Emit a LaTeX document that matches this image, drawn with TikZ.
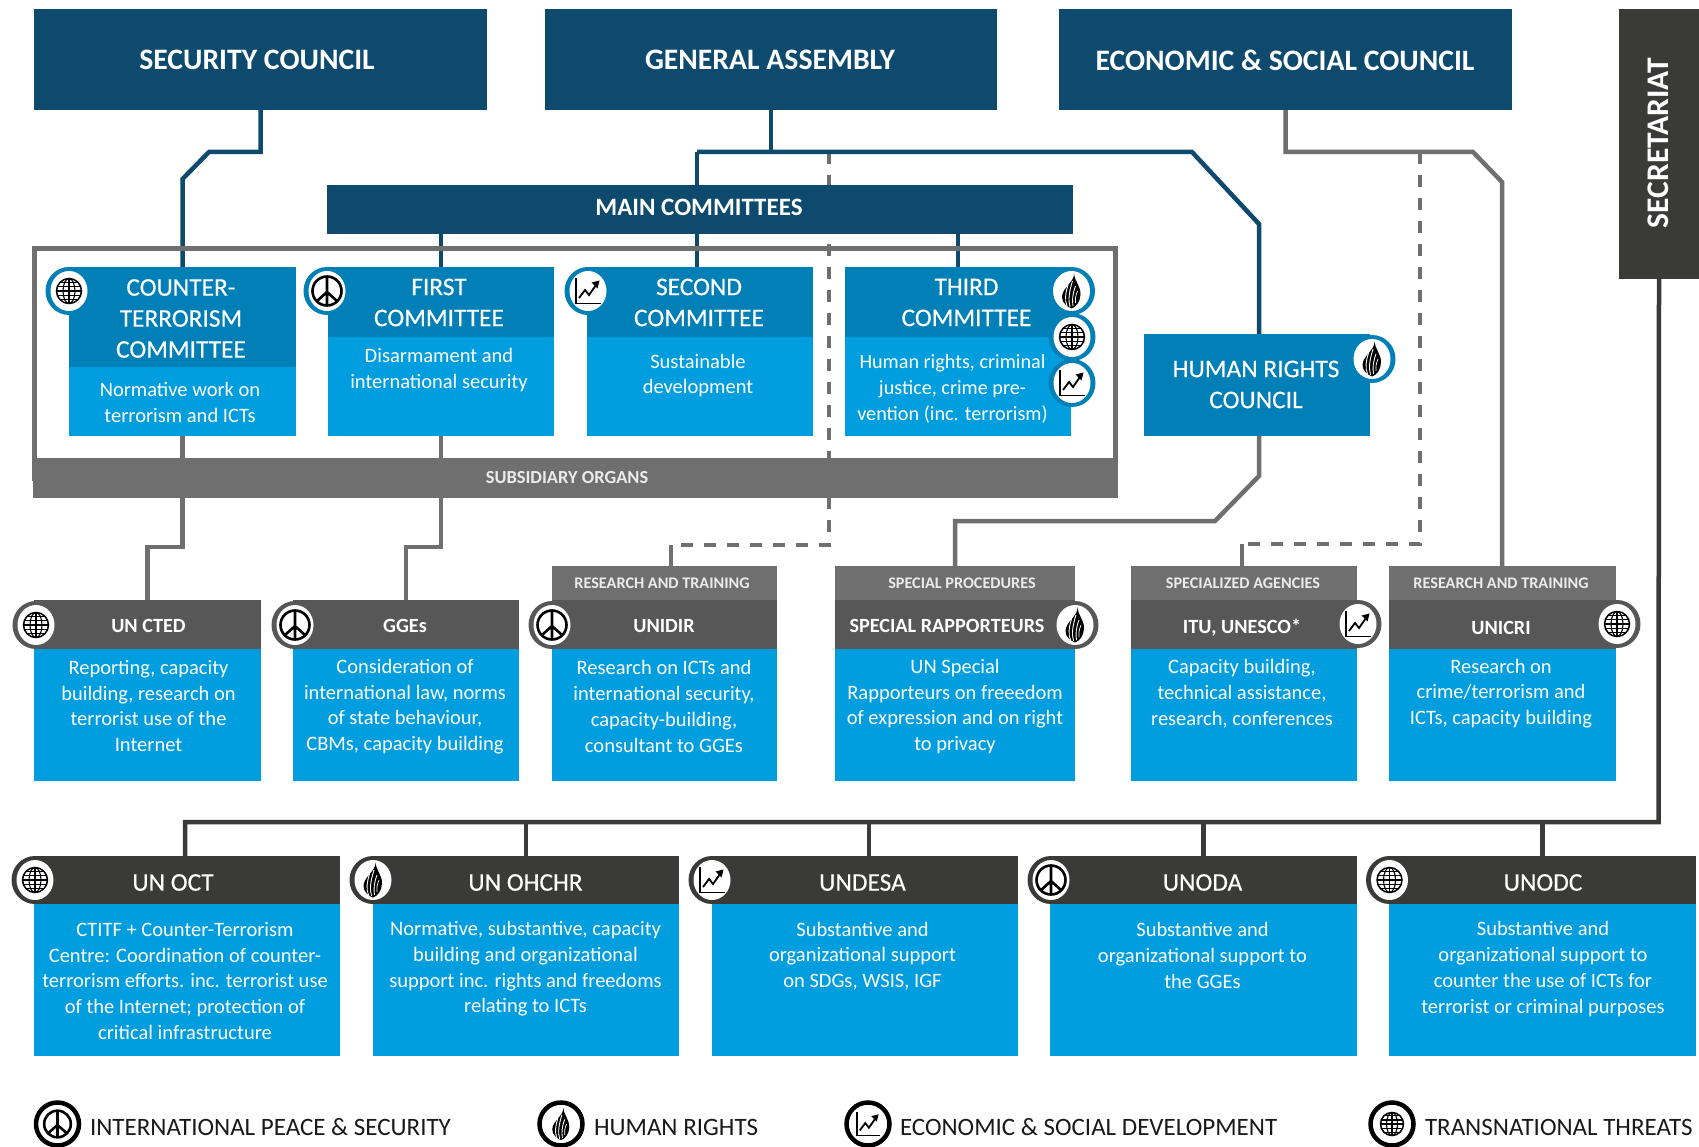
\documentclass[tikz,border=0pt]{standalone}
\usepackage{fontspec}
\setmainfont{Carlito}
\newfontfamily\semib[FakeBold=0.35]{Carlito}
\usetikzlibrary{shapes.geometric}
\definecolor{navyc}{HTML}{0D4A6E}
\definecolor{midc}{HTML}{0080B6}
\definecolor{bodyc}{HTML}{009DDF}
\definecolor{grayc}{HTML}{6F6F6F}
\definecolor{darkc}{HTML}{575757}
\definecolor{blackc}{HTML}{3A3A38}
\pgfdeclarelayer{back}
\pgfsetlayers{back,main}
\tikzset{
  boxn/.style={rectangle,inner sep=0pt,outer sep=0pt,draw=none},
  tx/.style={inner sep=0pt,outer sep=0pt,text=white,align=center},
  bodytx/.style={tx,font=\fontsize{20.5}{25.7}\selectfont},
  toptx/.style={tx,font=\fontsize{29.7}{32}\bfseries\selectfont},
  comtx/.style={tx,font=\fontsize{25.4}{31}\semib\selectfont},
  nametx/.style={tx,font=\fontsize{25.4}{28}\semib\selectfont},
  subtx/.style={tx,font=\fontsize{20.2}{24}\bfseries\selectfont},
  labtx/.style={tx,font=\fontsize{16.2}{20}\bfseries\selectfont,text=white!92!black},
  legtx/.style={inner sep=0pt,outer sep=0pt,anchor=west,text=black!90,font=\fontsize{25}{28}\selectfont},
  navyline/.style={draw=navyc,line width=4.5pt},
  grayline/.style={draw=grayc,line width=4.5pt},
  blackline/.style={draw=blackc,line width=4.5pt},
  dashline/.style={draw=grayc,line width=4.5pt,dash pattern=on 12pt off 11pt},
  iglobe/.pic={
    \draw[line width=1.5pt,black] (0,0) circle[radius=12.5];
    \draw[line width=1.1pt,black] (0,0) ellipse[x radius=6,y radius=12.5];
    \draw[line width=1.1pt,black] (0,-12.5)--(0,12.5) (-12.5,0)--(12.5,0)
      (-11.7,-4.4)--(11.7,-4.4) (-11.7,4.4)--(11.7,4.4) (-8.8,-8.8)--(8.8,-8.8) (-8.8,8.8)--(8.8,8.8);
  },
  ipeace/.pic={
    \draw[line width=2.6pt,black] (0,0) ellipse[x radius=14.5,y radius=14.5];
    \draw[line width=2.6pt,black] (0,-14.5)--(0,14.5) (0,1)--(-10.2,10.2) (0,1)--(10.2,10.2);
  },
  ichart/.pic={
    \draw[line width=1.5pt,black] (-12,-13)--(-12,12.5)--(12.5,12.5);
    \draw[line width=1.8pt,black] (-9,7)--(-3,-1)--(1,4)--(8,-6);
    \fill[black] (11.5,-10.5)--(3.5,-8.5)--(9.5,-2.5)--cycle;
  },
  iflame/.pic={
    \fill[black] (2.5,-17.5) .. controls (3,-9) and (-9.5,-3) .. (-9.5,6) .. controls (-9.5,12) and (-4,16) .. (0,17.5) .. controls (5,16) and (9,10) .. (9,3) .. controls (9,-5) and (3.5,-9) .. (2.5,-17.5) -- cycle;
    \draw[white,line width=.9pt] (-4.5,15) .. controls (-7,9) and (-6,2) .. (-3.5,-6);
    \draw[white,line width=.9pt] (-1.5,16) .. controls (-3.5,9) and (-2.5,1) .. (1,-10);
    \draw[white,line width=.9pt] (1.5,15) .. controls (0.5,9) and (1,3) .. (4,-5);
    \draw[white,line width=.7pt] (4,12) .. controls (3.5,8) and (4,5) .. (6,0);
  }
}
\newcommand{\bx}[6]{\node[boxn,fill=#6,minimum width={(#4-#2)*1pt},minimum height={(#5-#3)*1pt}] (#1) at ({(#2+#4)/2},{(#3+#5)/2}) {};}
\newcommand{\icn}[5]{%
  \node[boxn,ellipse,fill=#4,minimum width=47pt,minimum height=48pt] (#1r) at (#2,#3) {};
  \node[boxn,ellipse,fill=white,minimum width=37pt,minimum height=40pt] (#1w) at (#2,#3) {};
  \pic at (#1w) {#5};}
\newcommand{\lgd}[4]{%
  \node[boxn,circle,draw=black,fill=white,line width=4.5pt,minimum size=43pt] (#1r) at (#2,#3) {};
  \pic[scale=.92] at (#1r) {#4};}
\begin{document}
\begin{tikzpicture}[x=1pt,y=-1pt]
\useasboundingbox (0,0) rectangle (1699,1147);
% top organs
\bx{sc}{34}{9}{487}{110}{navyc}
\bx{ga}{545}{9}{997}{110}{navyc}
\bx{eco}{1059}{9}{1512}{110}{navyc}
\bx{sec}{1619}{9}{1699}{279}{blackc}
\bx{mc}{327}{185}{1073}{234}{navyc}
\node[toptx] (sct) at (257,60) {SECURITY COUNCIL};
\node[toptx] (gat) at (770,60) {GENERAL ASSEMBLY};
\node[toptx] (ecot) at (1285,60) {ECONOMIC \& SOCIAL COUNCIL};
\node[toptx,rotate=90,font=\fontsize{31.5}{34}\bfseries\selectfont] (sect) at (1658,143) {SECRETARIAT};
\node[tx,font=\fontsize{25}{30}\bfseries\selectfont] (mct) at (699,207.5) {MAIN COMMITTEES};
% frame and bar
\node[boxn,draw=grayc,line width=5pt,fill=none,minimum width=1081pt,minimum height=230pt] (frame) at (575.2,363.5) {};
\bx{bar}{32.5}{458}{1118}{498}{grayc}
\node[labtx,font=\fontsize{18.4}{20}\bfseries\selectfont] (bart) at (567,478) {SUBSIDIARY ORGANS};
% committees
\bx{ctc}{69}{267}{296}{436}{bodyc}
\bx{ctch}{69}{267}{296}{367}{midc}
\bx{fir}{328}{267}{554}{436}{bodyc}
\bx{firh}{328}{267}{554}{337}{midc}
\bx{snd}{587}{267}{813}{436}{bodyc}
\bx{sndh}{587}{267}{813}{337}{midc}
\bx{thd}{845}{267}{1071}{436}{bodyc}
\bx{thdh}{845}{267}{1071}{337}{midc}
\bx{hrc}{1144}{334}{1370}{436}{midc}
\node[comtx] (ctct) at (181,318.5) {COUNTER-\\TERRORISM\\COMMITTEE};
\node[bodytx] (ctcb) at (180,402.5) {Normative work on\\terrorism and ICTs};
\node[comtx] (firt) at (439,302.5) {FIRST\\COMMITTEE};
\node[bodytx] (firb) at (439,370) {Disarmament and\\international security};
\node[comtx] (sndt) at (699,302.5) {SECOND\\COMMITTEE};
\node[bodytx] (sndb) at (698,375.5) {Sustainable\\development};
\node[comtx] (thdt) at (966.5,302.5) {THIRD\\COMMITTEE};
\node[bodytx,font=\fontsize{20.2}{25.7}\selectfont] (thdb) at (952.5,389) {Human rights, criminal\\justice, crime pre-\\vention (inc. terrorism)};
\node[comtx] (hrct) at (1256,384.5) {HUMAN RIGHTS\\COUNCIL};
\icn{ia}{69}{291}{midc}{iglobe}
\icn{ib}{327}{291}{midc}{ipeace}
\icn{ic}{588}{291}{midc}{ichart}
\icn{id}{1072}{383}{midc}{ichart}
\icn{ie}{1072}{337}{midc}{iglobe}
\icn{if}{1071.5}{291}{midc}{iflame}
\icn{ig}{1372}{359}{midc}{iflame}
% subsidiary row
\bx{cted}{34}{600}{261}{781}{bodyc}
\bx{ctedh}{34}{600}{261}{649}{darkc}
\bx{gge}{293}{600}{519}{781}{bodyc}
\bx{ggeh}{293}{600}{519}{649}{darkc}
\bx{unid}{551.5}{566}{777}{781}{bodyc}
\bx{unidl}{551.5}{566}{777}{600}{grayc}
\bx{unidh}{551.5}{600}{777}{649}{darkc}
\bx{srp}{835}{566}{1075}{781}{bodyc}
\bx{srpl}{835}{566}{1075}{600}{grayc}
\bx{srph}{835}{600}{1075}{649}{darkc}
\bx{itu}{1130.5}{566}{1357}{781}{bodyc}
\bx{itul}{1130.5}{566}{1357}{600}{grayc}
\bx{ituh}{1130.5}{600}{1357}{649}{darkc}
\bx{uni}{1389}{566}{1616}{781}{bodyc}
\bx{unil}{1389}{566}{1616}{600}{grayc}
\bx{unih}{1389}{600}{1616}{649}{darkc}
\node[subtx] (ctedt) at (148.5,626) {UN CTED};
\node[bodytx] (ctedb) at (148.5,706) {Reporting, capacity\\building, research on\\terrorist use of the\\Internet};
\node[subtx] (ggt) at (405,626) {GGEs};
\node[bodytx] (ggb) at (405,706.5) {Consideration of\\international law, norms\\of state behaviour,\\CBMs, capacity building};
\node[labtx] (unl) at (662,583.5) {RESEARCH AND TRAINING};
\node[subtx] (unt) at (664,626) {UNIDIR};
\node[bodytx] (unb) at (664,706.5) {Research on ICTs and\\international security,\\capacity-building,\\consultant to GGEs};
\node[labtx] (srl) at (962,583.5) {SPECIAL PROCEDURES};
\node[subtx] (srt) at (947,626) {SPECIAL RAPPORTEURS};
\node[bodytx] (srb) at (955,706.5) {UN Special\\Rapporteurs on freeedom\\of expression and on right\\to privacy};
\node[labtx] (itl) at (1243,583.5) {SPECIALIZED AGENCIES};
\node[subtx] (itt) at (1242,628) {ITU, UNESCO*};
\node[bodytx] (itb) at (1242,693.5) {Capacity building,\\technical assistance,\\research, conferences};
\node[labtx] (ull) at (1501,583.5) {RESEARCH AND TRAINING};
\node[subtx] (ult) at (1501,628) {UNICRI};
\node[bodytx] (ulb) at (1501,693.5) {Research on\\crime/terrorism and\\ICTs, capacity building};
\icn{ih}{36}{625}{darkc}{iglobe}
\icn{ii}{295}{625}{darkc}{ipeace}
\icn{ij}{552}{625}{darkc}{ipeace}
\icn{ik}{1075}{625}{darkc}{iflame}
\icn{il}{1358}{624}{darkc}{ichart}
\icn{im}{1617}{624}{darkc}{iglobe}
% secretariat row
\bx{oct}{34}{856}{340}{1056}{bodyc}
\bx{octh}{34}{856}{340}{904}{blackc}
\bx{ohc}{373}{856}{679}{1056}{bodyc}
\bx{ohch}{373}{856}{679}{904}{blackc}
\bx{des}{712}{856}{1018}{1056}{bodyc}
\bx{desh}{712}{856}{1018}{904}{blackc}
\bx{oda}{1050}{856}{1357}{1056}{bodyc}
\bx{odah}{1050}{856}{1357}{904}{blackc}
\bx{odc}{1389}{856}{1696}{1056}{bodyc}
\bx{odch}{1389}{856}{1696}{904}{blackc}
\node[nametx] (octt) at (173,882.5) {UN OCT};
\node[bodytx] (octb) at (185,981) {CTITF + Counter-Terrorism\\Centre:  Coordination of counter-\\terrorism efforts. inc. terrorist use\\of the Internet; protection of\\critical infrastructure};
\node[nametx] (ohct) at (525.5,882.5) {UN OHCHR};
\node[bodytx] (ohcb) at (525.5,969) {Normative, substantive, capacity\\building and organizational\\support inc. rights and freedoms\\relating to ICTs};
\node[nametx] (dest) at (862.5,882.5) {UNDESA};
\node[bodytx] (desb) at (862.5,956) {Substantive and\\organizational support\\on SDGs, WSIS, IGF};
\node[nametx] (odat) at (1202.5,882.5) {UNODA};
\node[bodytx] (odab) at (1202.5,955.5) {Substantive and\\organizational support to\\the GGEs};
\node[nametx] (odct) at (1543,882.5) {UNODC};
\node[bodytx] (odcb) at (1543,969) {Substantive and\\organizational support to\\counter the use of ICTs for\\terrorist or criminal purposes};
\icn{in}{35}{880}{blackc}{iglobe}
\icn{io}{373}{880}{blackc}{iflame}
\icn{ip}{712}{880}{blackc}{ichart}
\icn{iq}{1051}{880}{blackc}{ipeace}
\icn{ir}{1389.5}{880}{blackc}{iglobe}
% legend
\lgd{la}{57.5}{1124}{ipeace}
\node[legtx] (lat) at (90,1127) {INTERNATIONAL PEACE \& SECURITY};
\lgd{lb}{561}{1124}{iflame}
\node[legtx] (lbt) at (594,1127) {HUMAN RIGHTS};
\lgd{lc}{868}{1124}{ichart}
\node[legtx] (lct) at (900,1127) {ECONOMIC \& SOCIAL DEVELOPMENT};
\lgd{ld}{1392}{1124}{iglobe}
\node[legtx] (ldt) at (1425,1127) {TRANSNATIONAL THREATS};
% connectors
\coordinate (garail) at (771,152);
\coordinate (c2) at (697,152);
\coordinate (d1) at (829,152);
\coordinate (d1b) at (829,545);
\coordinate (d1e) at (671,545);
\coordinate (d2) at (1420,152);
\coordinate (d2b) at (1420,544);
\coordinate (d2e) at (1242,544);
\coordinate (sl) at (1658.5,822);
\begin{pgfonlayer}{back}
\draw[dashline] (d1) -- (d1b) -- (d1e);
\draw[dashline] (d2) -- (d2b) -- (d2e);
\draw[grayline] (d1e) -- (d1e |- unid.north);
\draw[grayline] (d2e) -- (d2e |- itu.north);
\draw[navyline] (sc.south) -- ++(0,42) -- (209,152) -- (182.5,179) -- (ctc.north);
\draw[navyline] (ga.south) -- (garail);
\draw[navyline] (c2) -- (c2 |- mc.north);
\draw[navyline] (c2) -- (1192,152) -- (1259,224) -- (1259,334);
\draw[navyline] (fir.north |- mc.south) -- (fir.north);
\draw[navyline] (c2 |- mc.south) -- (c2 |- snd.north);
\draw[navyline] (thd.north |- mc.south) -- (thd.north);
\draw[grayline] (eco.south) -- ++(0,42) -- (1473,152) -- (1502,182) -- (1502,566);
\draw[grayline] (ctc.south) -- (ctc.south |- 0,547) -- (cted.north |- 0,547) -- (cted.north);
\draw[grayline] (fir.south) -- (fir.south |- 0,547) -- (gge.north |- 0,547) -- (gge.north);
\draw[grayline] (1259,436) -- (1259,476) -- (1215,521) -- (srp.north |- 0,521) -- (srp.north);
\draw[blackline] (sec.south) -- (sl) -- (185,822) -- (185,856);
\draw[blackline] (ohc.north |- sl) -- (ohc.north);
\draw[blackline] (869,822) -- (869,856);
\draw[blackline] (oda.north |- sl) -- (oda.north);
\draw[blackline] (odc.north |- sl) -- (odc.north);
\end{pgfonlayer}
\end{tikzpicture}
\end{document}
